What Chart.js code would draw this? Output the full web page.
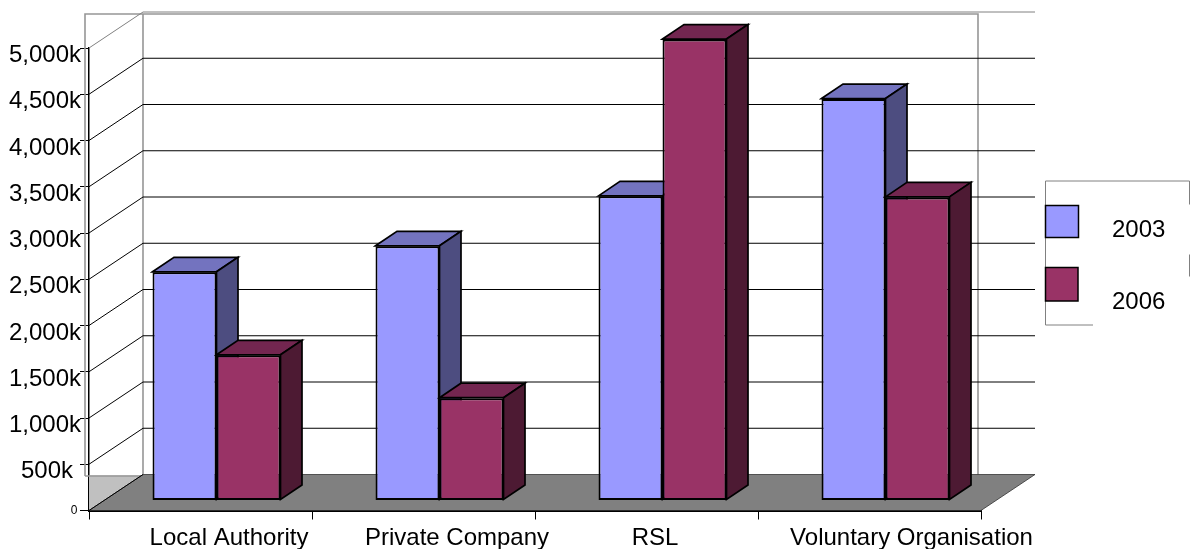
<!DOCTYPE html>
<html>
<head>
<meta charset="utf-8">
<style>html,body{margin:0;padding:0;background:#fff}canvas{display:block}</style>
<script src="https://cdn.jsdelivr.net/npm/chart.js@4/dist/chart.umd.min.js"></script>
</head>
<body>
<canvas id="c" width="1197" height="549"></canvas>
<script>
const categories = ['Local Authority', 'Private Company', 'RSL', 'Voluntary Organisation'];
const seriesNames = ['2003', '2006'];
const values2003 = [2467, 2748, 3288, 4340];
const values2006 = [1570, 1106, 4983, 3277];
const tickStep = 500;
const axisMax = 5000;

const frontColors = ['#9999FF', '#993366'];
const topColors = ['#7373BF', '#732650'];
const sideColors = ['#4D4D80', '#4D1A33'];
const FONT = '"Liberation Sans", Arial, sans-serif';

// 3D projection
const WALL_DX = 54, WALL_DY = -36;
const BAR_SHIFT_X = 16, BAR_SHIFT_Y = -10;
const BAR_DX = 21.5, BAR_DY = -14.5;
const X_LABEL_SHIFT = [28.5, 33.5, 8.5, 42];

const scene = {
  id: 'scene',
  beforeDraw(chart) {
    const { x, y } = chart.scales;
    x.getLabelItems(chart.chartArea).forEach((it, i) => {
      it.options.translation[0] += X_LABEL_SHIFT[i];
      it.options.translation[1] += 4;
    });
    y.getLabelItems(chart.chartArea).forEach(it => {
      if (it.label === '0') { it.options.translation[0] -= 2.5; return; }
      it.options.translation[0] += it.label === '500k' ? -7 : 1;
      it.options.translation[1] += 7.5;
    });
  },
  beforeDatasetsDraw(chart) {
    const ctx = chart.ctx, { x, y } = chart.scales;
    const L = x.left, R = x.right, y0 = y.getPixelForValue(0), yT = y.getPixelForValue(axisMax);
    const bL = L + WALL_DX, bR = R + WALL_DX, by0 = y0 + WALL_DY, byT = yT + WALL_DY;
    ctx.save();
    // left wall floor wedge
    ctx.fillStyle = '#C0C0C0';
    ctx.beginPath(); ctx.moveTo(L, y0); ctx.lineTo(bL, by0 + 1); ctx.lineTo(L, by0 + 1); ctx.closePath(); ctx.fill();
    // gray wall frames
    ctx.strokeStyle = '#969696'; ctx.lineWidth = 1.6;
    ctx.beginPath();
    ctx.moveTo(L - 4, by0 + 1.5); ctx.lineTo(bL, by0 + 1.5);
    ctx.moveTo(L - 4, by0 + 1.5); ctx.lineTo(L - 4, byT + 2);
    ctx.lineTo(R - 3, byT + 2); ctx.lineTo(R - 3, by0);
    ctx.moveTo(bL, byT + 2); ctx.lineTo(bL, by0);
    ctx.stroke();
    // floor
    ctx.fillStyle = '#808080'; ctx.strokeStyle = '#222'; ctx.lineWidth = 0.7;
    ctx.beginPath(); ctx.moveTo(L, y0); ctx.lineTo(bL, by0); ctx.lineTo(bR, by0); ctx.lineTo(R, y0); ctx.closePath(); ctx.fill(); ctx.stroke();
    // gridlines on both walls
    ctx.lineWidth = 1;
    for (let v = 0; v <= axisMax; v += tickStep) {
      const py = y.getPixelForValue(v), gy = py + WALL_DY;
      ctx.strokeStyle = v === axisMax ? '#808080' : '#000';
      ctx.beginPath();
      ctx.moveTo(L, py); ctx.lineTo(bL, gy);
      if (v > 0) { ctx.lineTo(bR, gy); }
      ctx.stroke();
    }
    ctx.restore();
  },
  // Chart.js paints the first dataset last; the 3D stacking needs 2003 behind 2006.
  beforeDatasetDraw() { return false; },
  afterDatasetsDraw(chart) {
    const ctx = chart.ctx;
    chart.data.datasets.forEach((d, i) => {
      const meta = chart.getDatasetMeta(i);
      ctx.save();
      ctx.translate(BAR_SHIFT_X, BAR_SHIFT_Y);
      ctx.strokeStyle = '#000'; ctx.lineWidth = 1.7; ctx.lineJoin = 'miter';
      meta.data.forEach(bar => {
        const p = bar.getProps(['x', 'y', 'base', 'width'], true);
        const l = p.x - p.width / 2, r = p.x + p.width / 2;
        const t = p.y - 0.5, b = p.base - 0.5;
        ctx.fillStyle = topColors[i];
        ctx.beginPath(); ctx.moveTo(l, t); ctx.lineTo(l + BAR_DX, t + BAR_DY); ctx.lineTo(r + BAR_DX, t + BAR_DY); ctx.lineTo(r, t); ctx.closePath(); ctx.fill(); ctx.stroke();
        ctx.fillStyle = sideColors[i];
        ctx.beginPath(); ctx.moveTo(r, t); ctx.lineTo(r + BAR_DX, t + BAR_DY); ctx.lineTo(r + BAR_DX, b + BAR_DY); ctx.lineTo(r, b); ctx.closePath(); ctx.fill(); ctx.stroke();
      });
      meta.controller.draw();
      ctx.restore();
    });
  },
  afterDraw(chart) {
    const ctx = chart.ctx;
    ctx.save();
    // broken legend frame, as in the source
    ctx.strokeStyle = '#808080'; ctx.lineWidth = 1;
    ctx.beginPath();
    ctx.moveTo(1045.5, 325); ctx.lineTo(1045.5, 181); ctx.lineTo(1189.5, 181); ctx.lineTo(1189.5, 204.5);
    ctx.moveTo(1189.5, 254.5); ctx.lineTo(1189.5, 276.5);
    ctx.moveTo(1045.5, 325); ctx.lineTo(1093, 325);
    ctx.stroke();
    const boxes = [[1045.5, 205.5, 33, 32], [1045.5, 267.5, 32.5, 33.5]];
    const textY = [230.5, 302.5];
    ctx.font = '24px ' + FONT; ctx.textBaseline = 'middle'; ctx.textAlign = 'left';
    seriesNames.forEach((n, i) => {
      ctx.fillStyle = frontColors[i]; ctx.strokeStyle = '#000'; ctx.lineWidth = 1.5;
      ctx.fillRect(...boxes[i]); ctx.strokeRect(...boxes[i]);
      ctx.fillStyle = '#000';
      ctx.fillText(n, 1112, textY[i]);
    });
    ctx.restore();
  }
};

new Chart(document.getElementById('c'), {
  type: 'bar',
  plugins: [scene],
  data: {
    labels: categories,
    datasets: [
      { label: seriesNames[0], data: values2003, backgroundColor: frontColors[0] },
      { label: seriesNames[1], data: values2006, backgroundColor: frontColors[1] }
    ].map(d => ({ ...d, borderColor: '#000', borderWidth: 2, borderSkipped: false, clip: false, categoryPercentage: 0.574, barPercentage: 1 }))
  },
  options: {
    responsive: false, animation: false,
    layout: { padding: { left: 0, right: 216, top: 48, bottom: 0 } },
    plugins: { legend: { display: false }, tooltip: { enabled: false } },
    scales: {
      x: {
        afterFit(s) { s.height = 38.5; },
        grid: { drawOnChartArea: false, drawTicks: true, tickLength: 9, color: '#000', lineWidth: 1 },
        border: { color: '#000', width: 2 },
        ticks: { font: { family: FONT, size: 24 }, color: '#000', maxRotation: 0, autoSkip: false, padding: 0 }
      },
      y: {
        min: 0, max: axisMax,
        afterFit(s) { s.width = 89; },
        grid: { drawOnChartArea: false, drawTicks: true, tickLength: 9, color: '#000', lineWidth: 1 },
        border: { color: '#000', width: 1.5 },
        ticks: {
          stepSize: tickStep, color: '#000', padding: 0,
          font: c => ({ family: FONT, size: c.tick && c.tick.value === 0 ? 12 : 24 }),
          callback: v => v === 0 ? '0' : v.toLocaleString('en-US') + 'k'
        }
      }
    }
  }
});
</script>
</body>
</html>
